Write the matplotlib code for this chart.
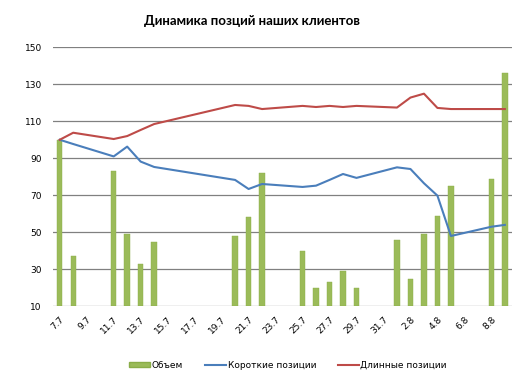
import matplotlib
matplotlib.use("Agg")
import matplotlib.pyplot as plt
import numpy as np
from matplotlib.patches import Patch
from matplotlib.lines import Line2D

plt.rcParams['font.family'] = ['DejaVu Sans']

# categories: daily dates from 7.7 to 9.8
days = [f"{d}.7" for d in range(7, 32)] + [f"{d}.8" for d in range(1, 10)]
tick_labels = [d if i % 2 == 0 else "" for i, d in enumerate(days)]

# volume bars (date -> value)
vol_dates = ["7.7", "8.7", "11.7", "12.7", "13.7", "14.7", "20.7", "21.7", "22.7",
             "25.7", "26.7", "27.7", "28.7", "29.7", "1.8", "2.8", "3.8", "4.8",
             "5.8", "8.8", "9.8"]
vol_values = [100, 37, 83, 49, 33, 45, 48, 58, 82,
              40, 20, 23, 29, 20, 46, 25, 49, 59,
              75, 79, 136]

# short positions
short_values = [100, 97.7, 91, 96.3, 88.2, 85.3, 78.3, 73.4, 76.1,
                74.5, 75.2, 78.3, 81.5, 79.4, 85.1, 84.2, 76.5, 69.8,
                48, 53, 54]
# long positions
long_values = [100, 103.8, 100.4, 102, 105.3, 108.5, 118.8, 118.3, 116.6,
               118.3, 117.7, 118.3, 117.7, 118.3, 117.4, 122.8, 124.9, 117.2,
               116.6, 116.6, 116.6]

x_idx = np.array([days.index(d) for d in vol_dates])

fig = plt.figure(figsize=(5.21, 3.84), dpi=100)
ax = fig.add_axes([0.1017, 0.2023, 0.8803, 0.6747])

ax.bar(x_idx, np.array(vol_values) - 10, bottom=10, width=0.4,
       color='#9bbb59', edgecolor='#8aad48', linewidth=0.3, zorder=3)
ax.plot(x_idx, short_values, color='#4a7ebb', lw=1.5, zorder=4)
ax.plot(x_idx, long_values, color='#be4b48', lw=1.5, zorder=4)

ax.set_xlim(-0.5, len(days) - 0.5)
ax.set_ylim(10, 150)
ax.set_yticks(np.arange(10, 151, 20))
ax.set_xticks(np.arange(len(days)))
ax.set_xticklabels(tick_labels, rotation=45, ha='right', rotation_mode='anchor',
                   fontsize=6.5)
ax.tick_params(axis='x', length=0, pad=6)
ax.tick_params(axis='y', length=0, pad=8, labelsize=6.5)
for s in ax.spines.values():
    s.set_visible(False)
ax.yaxis.grid(True, color='#808080', lw=0.9, zorder=0)
ax.set_axisbelow(True)

fig.text(0.483, 0.945, "Динамика позций наших клиентов", ha='center', va='center',
         fontsize=9.5, fontweight='bold', family=['Lato', 'DejaVu Sans'])

handles = [Patch(facecolor='#9bbb59', edgecolor='#8aad48'),
           Line2D([0], [0], color='#4a7ebb', lw=1.5),
           Line2D([0], [0], color='#be4b48', lw=1.5)]
fig.legend(handles, ["Объем", "Короткие позиции", "Длинные позиции"],
           loc='center', bbox_to_anchor=(0.553, 0.049), ncol=3, frameon=False,
           fontsize=6.5, handlelength=2.3, handleheight=0.5, columnspacing=2.4,
           handletextpad=0.2)

fig.savefig("out.png", dpi=100)
